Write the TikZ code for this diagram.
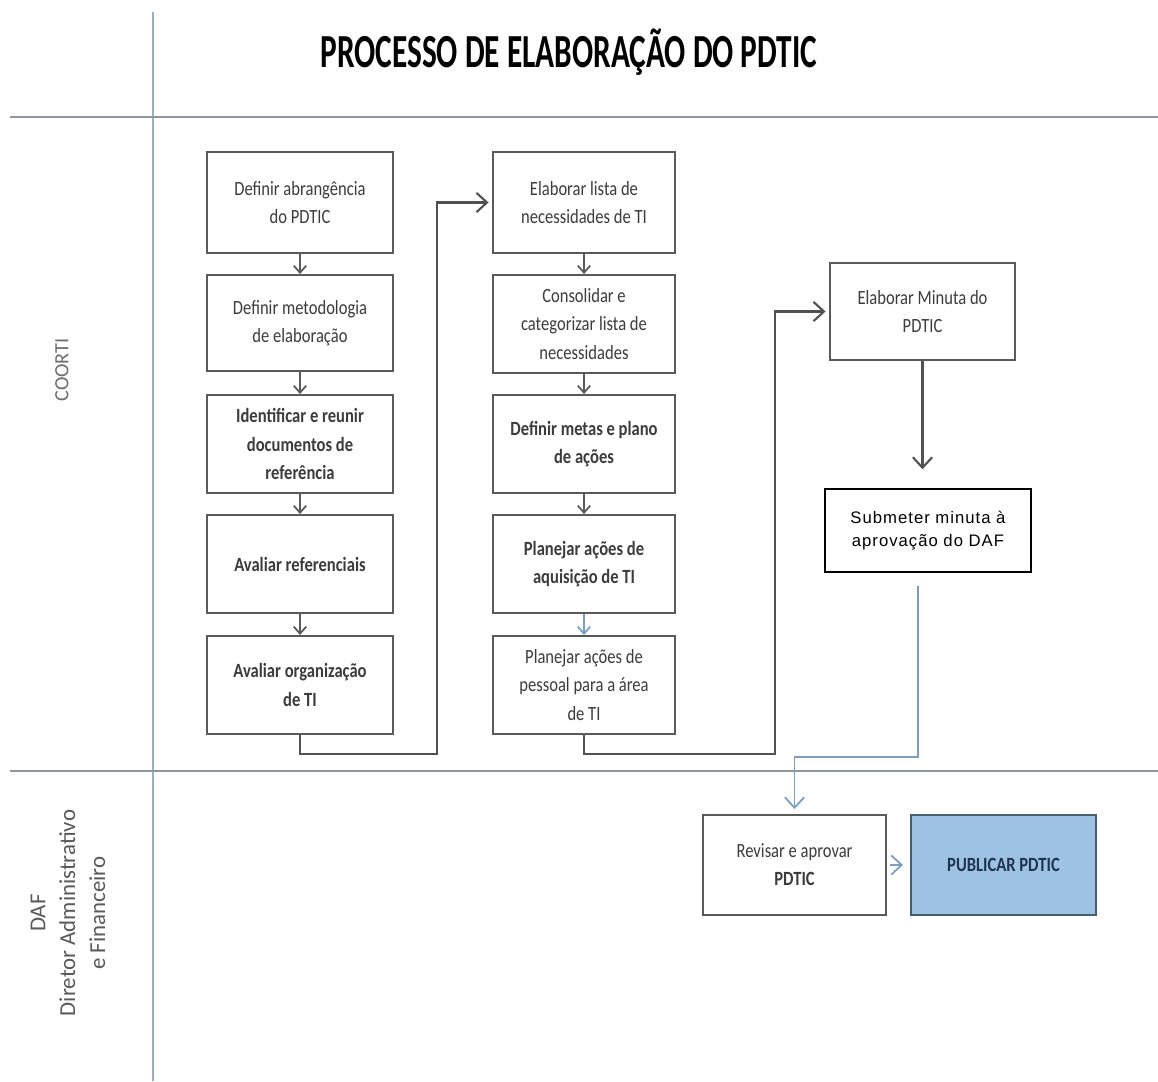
\documentclass[tikz,border=0pt]{standalone}
\usepackage{fontspec}
\setmainfont{Carlito}
\newfontfamily\boxfont[FakeStretch=0.82]{Carlito}
\newfontfamily\titlefont[FakeStretch=0.66]{Carlito}
\newfontfamily\subfont[LetterSpace=6]{Liberation Sans}
\usetikzlibrary{arrows.meta}
\definecolor{boxline}{HTML}{5A5A5A}
\definecolor{boxtext}{HTML}{3C3C3C}
\definecolor{laneblue}{HTML}{9AAFC4}
\definecolor{lanegray}{HTML}{8E959E}
\definecolor{connblue}{HTML}{7E9CBC}
\definecolor{pubfill}{HTML}{9EC2E4}
\definecolor{publine}{HTML}{4A5C70}
\definecolor{pubtext}{HTML}{1E3450}
\tikzset{
  procbox/.style={draw=boxline, line width=1.1pt, fill=white, inner sep=0pt, align=center,
    text=boxtext, font=\boxfont\fontsize{11.5}{16}\selectfont},
  conn/.style={draw=boxline!90!black, line width=1.2pt, -{Straight Barb[length=6pt,width=11pt,line width=1.2pt]}},
  sarrow/.style={draw=boxline, line width=1pt, -{Straight Barb[length=4pt,width=7pt,line width=1pt]}},
  bluearrow/.style={draw=connblue, line width=1pt, -{Straight Barb[length=6pt,width=11pt,line width=1pt]}},
  lanev/.style={draw=laneblue, line width=1pt},
  laneh/.style={draw=lanegray, line width=1.2pt},
  lanelabel/.style={rotate=90, text=boxtext!85, align=center, font=\fontsize{13}{17}\selectfont}
}
\begin{document}
\begin{tikzpicture}[x=0.02cm,y=-0.02cm]
\useasboundingbox[fill=white] (0,0) rectangle (1158,1081);
% lanes
\draw[lanev] (153,12) -- (153,1081);
\draw[laneh] (10,117) -- (1158,117);
\draw[laneh] (10,771) -- (1158,771);
\node[font=\titlefont\bfseries\fontsize{27}{30}\selectfont, text=black] (title) at (569,52) {PROCESSO DE ELABORAÇÃO DO PDTIC};
\node[lanelabel, text=boxtext!75, font=\fontsize{11.5}{15}\selectfont] (coorti) at (62,370) {COORTI};
\node[lanelabel] (daf) at (68,913) {DAF\\Diretor Administrativo\\e Financeiro};
% left column
\node[procbox, minimum width=3.72cm, minimum height=2.02cm] (l1) at (300,202.5) {Definir abrangência\\do PDTIC};
\node[procbox, minimum width=3.72cm, minimum height=1.92cm] (l2) at (300,323) {Definir metodologia\\de elaboração};
\node[procbox, minimum width=3.72cm, minimum height=1.96cm] (l3) at (300,444) {\bfseries Identificar e reunir\\\bfseries documentos de\\\bfseries referência};
\node[procbox, minimum width=3.72cm, minimum height=1.96cm] (l4) at (300,564) {\bfseries Avaliar referenciais};
\node[procbox, minimum width=3.72cm, minimum height=1.96cm] (l5) at (300,685) {\bfseries Avaliar organização\\\bfseries de TI};
% middle column
\node[procbox, minimum width=3.64cm, minimum height=2.02cm] (m1) at (584,202.5) {Elaborar lista de\\necessidades de TI};
\node[procbox, minimum width=3.64cm, minimum height=1.96cm] (m2) at (584,324) {Consolidar e\\categorizar lista de\\necessidades};
\node[procbox, minimum width=3.64cm, minimum height=1.96cm] (m3) at (584,444) {\bfseries Definir metas e plano\\\bfseries de ações};
\node[procbox, minimum width=3.64cm, minimum height=1.96cm] (m4) at (584,564) {\bfseries Planejar ações de\\\bfseries aquisição de TI};
\node[procbox, minimum width=3.64cm, minimum height=1.96cm] (m5) at (584,685) {Planejar ações de\\pessoal para a área\\de TI};
% right
\node[procbox, minimum width=3.7cm, minimum height=1.94cm] (mn) at (922.5,311.5) {Elaborar Minuta do\\PDTIC};
\node[draw=black, line width=0.8pt, fill=white, inner sep=0pt, align=center, minimum width=4.12cm, minimum height=1.66cm,
  font=\subfont\fontsize{9.5}{13}\selectfont] (sb) at (928,530.5) {Submeter minuta à\\aprovação do DAF};
\node[procbox, minimum width=3.66cm, minimum height=2.0cm] (rv) at (794.5,865) {Revisar e aprovar\\\bfseries PDTIC};
\node[procbox, draw=publine, fill=pubfill, text=pubtext, minimum width=3.7cm, minimum height=2.0cm] (pb) at (1003.5,865) {\bfseries PUBLICAR PDTIC};
% small arrows
\draw[sarrow] (l1) -- (l2);
\draw[sarrow] (l2) -- (l3);
\draw[sarrow] (l3) -- (l4);
\draw[sarrow] (l4) -- (l5);
\draw[sarrow] (m1) -- (m2);
\draw[sarrow] (m2) -- (m3);
\draw[sarrow] (m3) -- (m4);
\draw[sarrow, draw=connblue] (m4) -- (m5);
% long connectors
\coordinate (c1) at (437,754);
\coordinate (c2) at (775,754);
\coordinate (c3) at (794.5,757);
\draw[conn, shorten >=2pt] (l5.south) |- (c1) |- (m1.west);
\draw[conn, shorten >=2pt] (m5.south) |- (c2) |- (mn.west);
\draw[conn, shorten >=0.38cm] (mn.south) -- (mn.south |- sb.north);
\draw[bluearrow, shorten <=0.26cm, shorten >=0.1cm] ([xshift=-0.2cm]sb.south) |- (c3) -- (rv.north);
\draw[bluearrow, shorten <=2pt, shorten >=4pt] (rv.east) -- (pb.west);
\end{tikzpicture}
\end{document}
